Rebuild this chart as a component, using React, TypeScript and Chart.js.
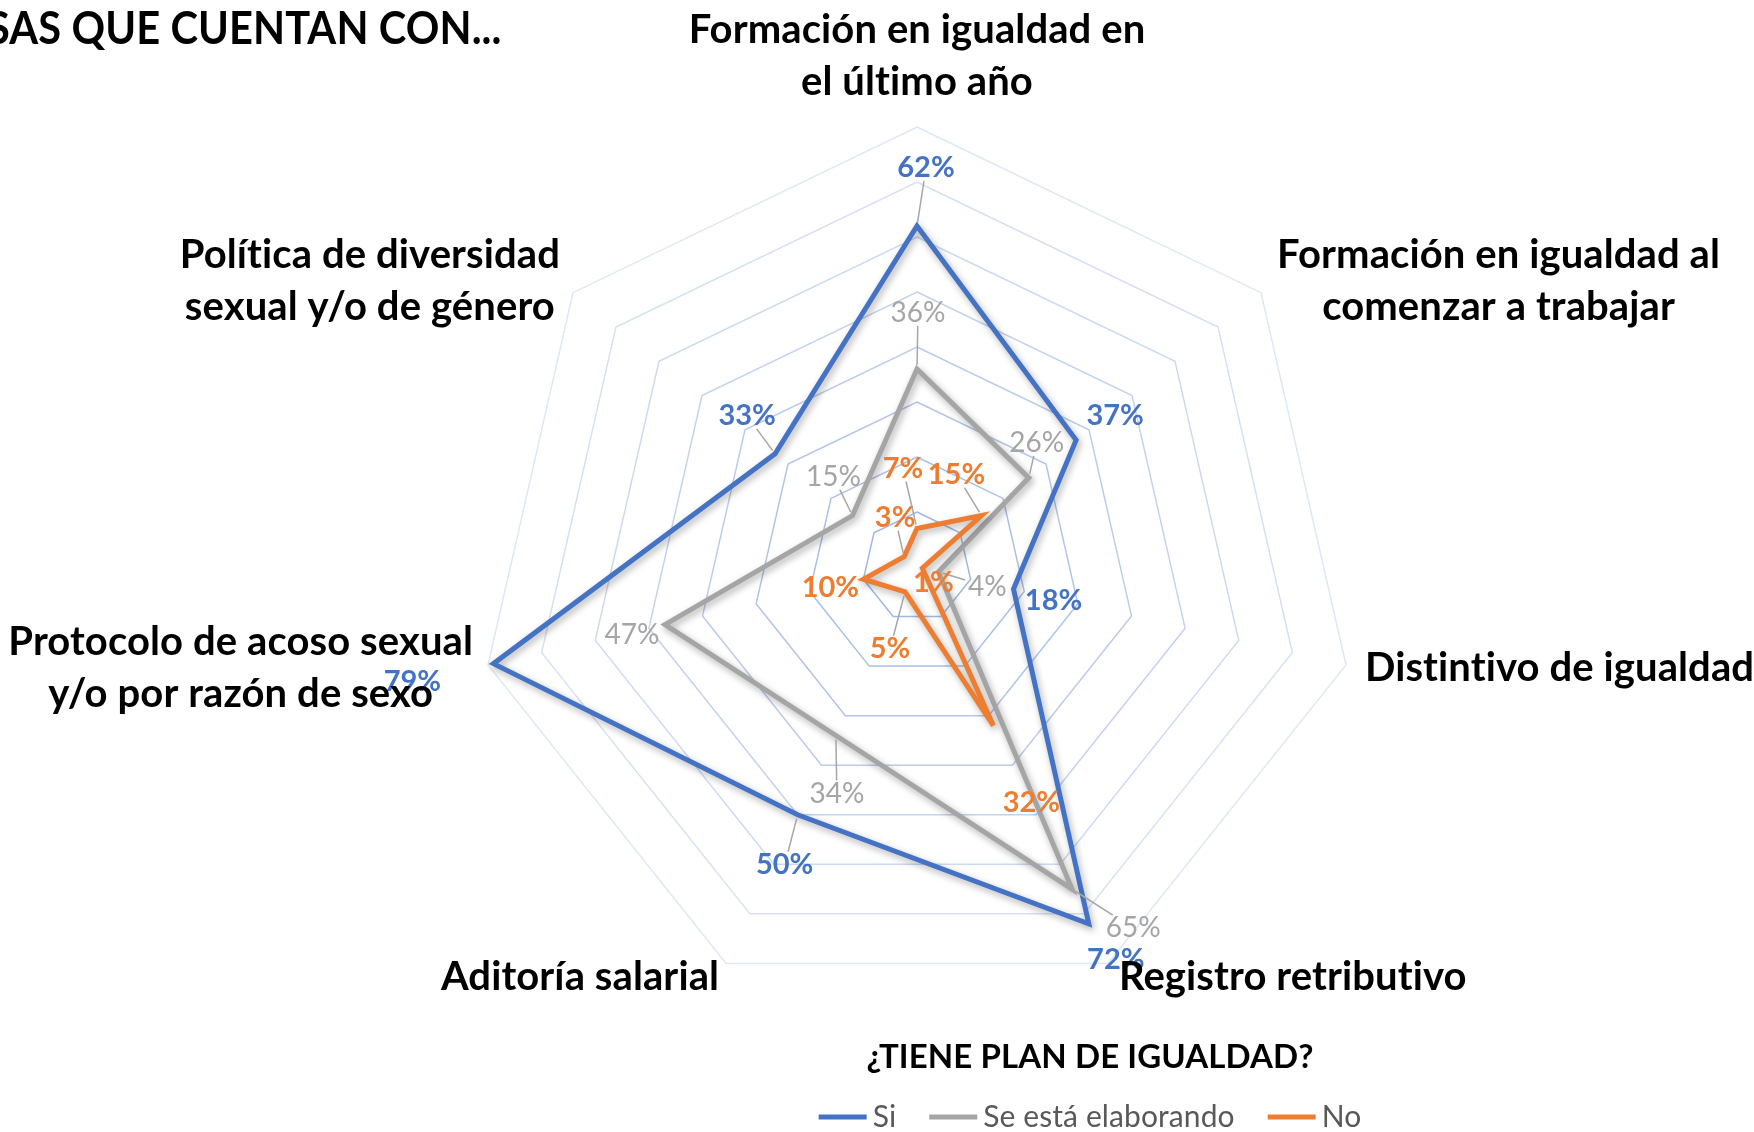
import React, { useEffect, useRef } from 'react';
import { Chart, registerables } from 'chart.js';

Chart.register(...registerables);

// ---------- data ----------
const categories: string[][] = [
  ['Formación en igualdad en', 'el último año'],
  ['Formación en igualdad al', 'comenzar a trabajar'],
  ['Distintivo de igualdad'],
  ['Registro retributivo'],
  ['Aditoría salarial'],
  ['Protocolo de acoso sexual', 'y/o por razón de sexo'],
  ['Política de diversidad', 'sexual y/o de género'],
];
const seriesNames = ['Si', 'Se está elaborando', 'No'];
const siValues = [62, 37, 18, 72, 50, 79, 33];
const elaborandoValues = [36, 26, 4, 65, 34, 47, 15];
const noValues = [7, 15, 1, 32, 5, 10, 3];
const scaleMin = 0;
const scaleMax = 80;
const scaleStep = 10;
const titleText = 'SAS QUE CUENTAN CON...';
const legendTitle = '¿TIENE PLAN DE IGUALDAD?';

// ---------- styling ----------
const FONT = 'Lato, "Open Sans", "DejaVu Sans", sans-serif';
const COLORS = ['#4472C4', '#A5A5A5', '#ED7D31'];
const LABEL_FONTS = [`bold 29px ${FONT}`, `28px ${FONT}`, `bold 29px ${FONT}`];

// label placement relative to each point: [dx, dy, leader]
const LABEL_OFFSETS: [number, number, boolean][][] = [
  [[9, -58, true], [39, -24, false], [40, 12, false], [27, 36, false], [-13, 50, true], [-81, 18, false], [-28, -38, true]],
  [[1, -56, true], [8, -35, true], [49, 15, true], [61, 39, true], [1, 58, true], [-33, 10, false], [-19, -39, true]],
  [[-14, -60, true], [-25, -41, true], [11, 14, false], [38, 77, false], [-15, 57, true], [-33, 8, false], [-9, -39, true]],
];

const AXIS_LABEL_LAYOUT: { align: 'left' | 'right' | 'center'; dx: number; dy: number }[] = [
  { align: 'center', dx: 0, dy: -71 },
  { align: 'left', dx: 16, dy: -12 },
  { align: 'left', dx: 19, dy: 3 },
  { align: 'left', dx: 11, dy: 14 },
  { align: 'right', dx: -7, dy: 14 },
  { align: 'right', dx: -15, dy: 3 },
  { align: 'right', dx: -13, dy: -12 },
];

const gridColor = (v: number) => {
  const t = Math.min(1, Math.max(0, (v - 10) / 70));
  const a = [160, 184, 227];
  const b = [222, 231, 246];
  return `rgb(${a.map((x, i) => Math.round(x + (b[i] - x) * t)).join(',')})`;
};

const shadowPlugin = {
  id: 'lineShadow',
  beforeDatasetsDraw(chart: any) {
    const ctx = chart.ctx;
    ctx.save();
    ctx.shadowColor = 'rgba(0,0,0,0.32)';
    ctx.shadowBlur = 7;
    ctx.shadowOffsetX = 2;
    ctx.shadowOffsetY = 3;
  },
  afterDatasetsDraw(chart: any) {
    chart.ctx.restore();
  },
};

const labelsPlugin = {
  id: 'customLabels',
  afterDatasetsDraw(chart: any) {
    const ctx = chart.ctx;
    ctx.save();
    const items: any[] = [];
    chart.data.datasets.forEach((ds: any, di: number) => {
      const meta = chart.getDatasetMeta(di);
      meta.data.forEach((pt: any, i: number) => {
        const [dx, dy, leader] = LABEL_OFFSETS[di][i];
        items.push({ di, px: pt.x, py: pt.y, lx: pt.x + dx, ly: pt.y + dy, leader, text: `${ds.data[i]}%` });
      });
    });
    ctx.strokeStyle = '#A6A6A6';
    ctx.lineWidth = 1.5;
    items.forEach((it) => {
      if (!it.leader) return;
      ctx.font = LABEL_FONTS[it.di];
      const w = ctx.measureText(it.text).width;
      const hw = w / 2 + 3;
      const hh = 13;
      const vx = it.px - it.lx;
      const vy = it.py - it.ly;
      const len = Math.hypot(vx, vy);
      if (len < 1) return;
      const t = Math.min(
        Math.abs(vx) > 0.01 ? hw / Math.abs(vx) : Infinity,
        Math.abs(vy) > 0.01 ? hh / Math.abs(vy) : Infinity
      );
      if (t >= 1) return;
      const sx = it.lx + vx * t;
      const sy = it.ly + vy * t;
      const ex = it.px - (vx / len) * 4;
      const ey = it.py - (vy / len) * 4;
      if (Math.hypot(ex - sx, ey - sy) < 3) return;
      ctx.beginPath();
      ctx.moveTo(sx, sy);
      ctx.lineTo(ex, ey);
      ctx.stroke();
    });
    ctx.textAlign = 'center';
    ctx.textBaseline = 'middle';
    items.forEach((it) => {
      ctx.font = LABEL_FONTS[it.di];
      ctx.fillStyle = COLORS[it.di];
      ctx.fillText(it.text, it.lx, it.ly);
    });
    ctx.restore();
  },
  afterDraw(chart: any) {
    const ctx = chart.ctx;
    const scale = chart.scales.r;
    ctx.save();
    // axis labels (no "ti" ligatures)
    ctx.font = `bold 40px ${FONT}`;
    if ('letterSpacing' in ctx) (ctx as any).letterSpacing = '0.1px';
    ctx.fillStyle = '#000000';
    ctx.textAlign = 'center';
    ctx.textBaseline = 'middle';
    const lineH = 52;
    categories.forEach((lines, i) => {
      const p = scale.getPointPosition(i, scale.drawingArea);
      const lay = AXIS_LABEL_LAYOUT[i];
      const ax = p.x + lay.dx;
      const ay = p.y + lay.dy;
      const bw = Math.max(...lines.map((l) => ctx.measureText(l).width));
      const cx = lay.align === 'left' ? ax + bw / 2 : lay.align === 'right' ? ax - bw / 2 : ax;
      lines.forEach((l, j) => {
        ctx.fillText(l, cx, ay + (j - (lines.length - 1) / 2) * lineH);
      });
    });
    // title (slightly condensed)
    ctx.save();
    ctx.font = `bold 46px ${FONT}`;
    ctx.textAlign = 'left';
    ctx.translate(-13, 29);
    ctx.scale(0.905, 1);
    ctx.fillText(titleText, 0, 0);
    ctx.restore();
    // legend title
    ctx.font = `bold 33px ${FONT}`;
    ctx.textAlign = 'center';
    ctx.fillText(legendTitle, 1090, 1057);
    // legend items
    ctx.font = `30px ${FONT}`;
    const lineW = 48;
    const gap1 = 6;
    const gap2 = 33;
    const widths = seriesNames.map((n) => ctx.measureText(n).width);
    const total = widths.reduce((s, w) => s + lineW + gap1 + w, 0) + gap2 * (seriesNames.length - 1);
    let x = 1090 - total / 2;
    const y = 1117;
    ctx.textAlign = 'left';
    seriesNames.forEach((n, i) => {
      ctx.strokeStyle = COLORS[i];
      ctx.lineWidth = 5;
      ctx.beginPath();
      ctx.moveTo(x, y);
      ctx.lineTo(x + lineW, y);
      ctx.stroke();
      x += lineW + gap1;
      ctx.fillStyle = '#595959';
      ctx.fillText(n, x, y);
      x += widths[i] + gap2;
    });
    ctx.restore();
  },
};

export default function App() {
  const ref = useRef<HTMLCanvasElement | null>(null);
  useEffect(() => {
    let chart: Chart | null = null;
    let cancelled = false;
    const make = () => {
      if (cancelled || !ref.current) return;
      const seriesValues = [siValues, elaborandoValues, noValues];
      chart = new Chart(ref.current, {
        type: 'radar',
        data: {
          labels: categories.map((c) => c.join(' ')),
          datasets: seriesNames.map((name, i) => ({
            label: name,
            data: seriesValues[i],
            borderColor: COLORS[i],
            backgroundColor: 'transparent',
            borderWidth: 5,
            fill: false,
            pointRadius: 0,
            pointHoverRadius: 0,
            borderJoinStyle: 'miter' as const,
            order: 3 - i,
          })),
        },
        options: {
          responsive: false,
          animation: false,
          devicePixelRatio: 1,
          layout: { padding: { left: 477, right: 397, top: 127, bottom: 125 } },
          plugins: { legend: { display: false }, tooltip: { enabled: false } },
          scales: {
            r: {
              min: scaleMin,
              max: scaleMax,
              beginAtZero: true,
              ticks: { display: false, stepSize: scaleStep },
              angleLines: { display: false },
              pointLabels: { display: false },
              grid: {
                circular: false,
                color: (c: any) => gridColor(c.tick ? c.tick.value : 0),
                lineWidth: 1.5,
              },
            },
          },
        },
        plugins: [shadowPlugin, labelsPlugin],
      });
    };
    const fonts = (document as any).fonts;
    if (fonts && fonts.load) {
      Promise.all([fonts.load(`bold 38px Lato`), fonts.load(`38px Lato`)]).then(make, make);
    } else make();
    return () => {
      cancelled = true;
      if (chart) chart.destroy();
    };
  }, []);
  return (
    <div style={{ position: 'fixed', left: 0, top: 0, width: 1754, height: 1132, background: '#fff' }}>
      <canvas ref={ref} width={1754} height={1132} style={{ display: 'block' }} />
    </div>
  );
}
